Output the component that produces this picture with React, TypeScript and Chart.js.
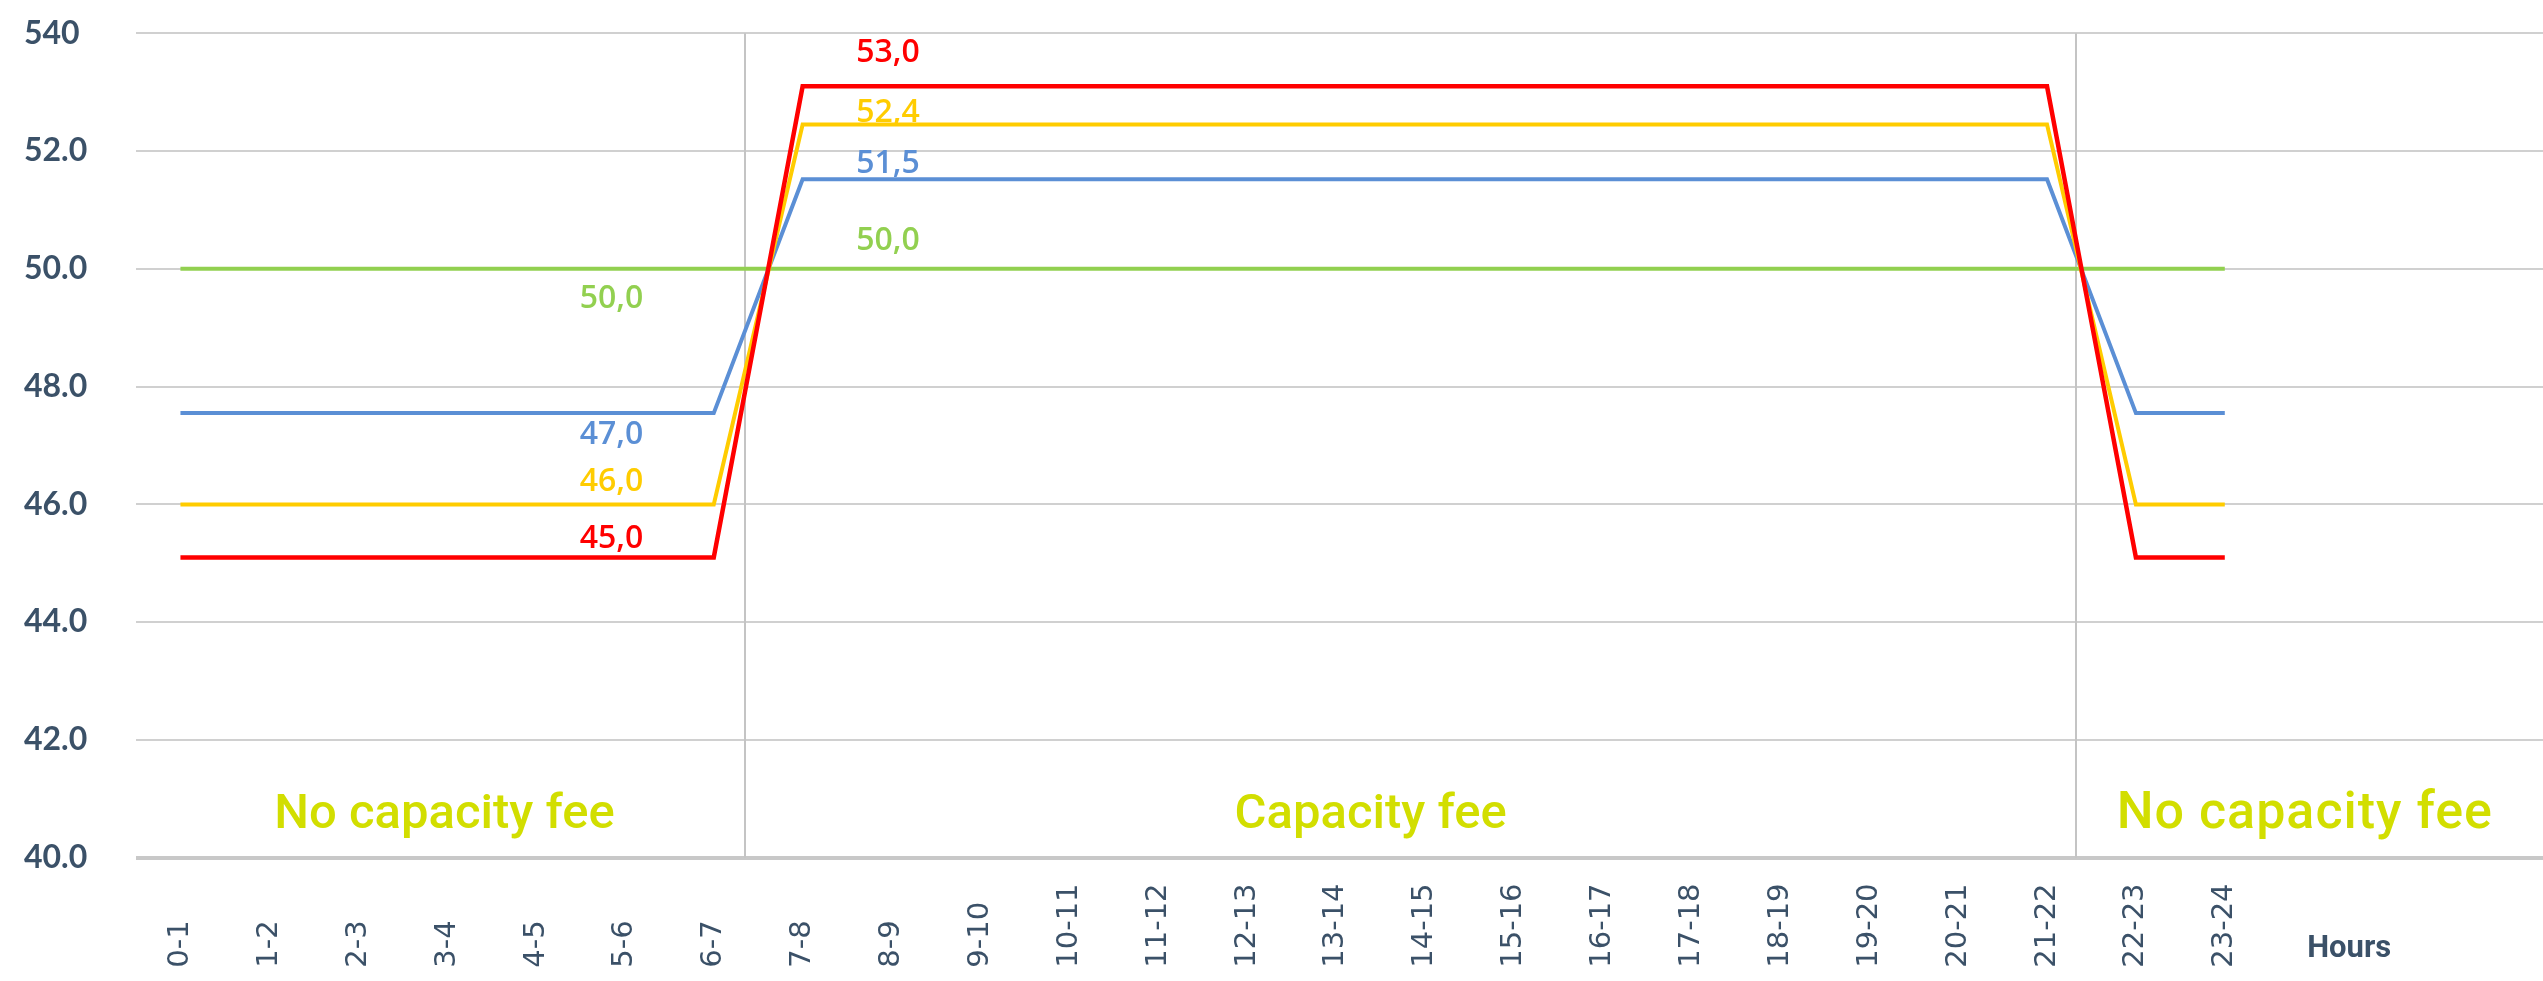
import React, { useEffect, useRef } from 'react';
import { Chart, registerables } from 'chart.js';

Chart.register(...registerables);

// ---- data ----
const hourLabels = [
  '0-1', '1-2', '2-3', '3-4', '4-5', '5-6', '6-7', '7-8', '8-9', '9-10', '10-11', '11-12',
  '12-13', '13-14', '14-15', '15-16', '16-17', '17-18', '18-19', '19-20', '20-21', '21-22', '22-23', '23-24',
];

const redValues = [45.1, 45.1, 45.1, 45.1, 45.1, 45.1, 45.1, 53.1, 53.1, 53.1, 53.1, 53.1, 53.1, 53.1, 53.1, 53.1, 53.1, 53.1, 53.1, 53.1, 53.1, 53.1, 45.1, 45.1];
const yellowValues = [46.0, 46.0, 46.0, 46.0, 46.0, 46.0, 46.0, 52.45, 52.45, 52.45, 52.45, 52.45, 52.45, 52.45, 52.45, 52.45, 52.45, 52.45, 52.45, 52.45, 52.45, 52.45, 46.0, 46.0];
const blueValues = [47.55, 47.55, 47.55, 47.55, 47.55, 47.55, 47.55, 51.52, 51.52, 51.52, 51.52, 51.52, 51.52, 51.52, 51.52, 51.52, 51.52, 51.52, 51.52, 51.52, 51.52, 51.52, 47.55, 47.55];
const greenValues = [50, 50, 50, 50, 50, 50, 50, 50, 50, 50, 50, 50, 50, 50, 50, 50, 50, 50, 50, 50, 50, 50, 50, 50];

const seriesColors = ['#ff0000', '#ffcc00', '#5b8fd5', '#92d050'];
const seriesWidths = [4.5, 4, 4, 4];

const xMin = -0.5;
const xMax = 26.58;

const yTickValues = [40, 42, 44, 46, 48, 50, 52, 54];
const yTickLabels = ['40.0', '42.0', '44.0', '46.0', '48.0', '50.0', '52.0', '540'];

// value labels (red, yellow, blue, green)
const lowLabelTexts = ['45,0', '46,0', '47,0', '50,0'];
const lowLabelValues = [45.41, 46.38, 47.18, 49.49];
const lowLabelIndex = 4.85;
const highLabelTexts = ['53,0', '52,4', '51,5', '50,0'];
const highLabelValues = [53.66, 52.65, 51.79, 50.47];
const highLabelIndex = 7.96;

// zone annotations
const zoneTexts = ['No capacity fee', 'Capacity fee', 'No capacity fee'];
const zoneIndex = [2.97, 13.39, 23.9];
const zoneFontSize = [49, 49, 52];
const zoneSpacing = ['0px', '0px', '1px'];
const zoneBaseline = 40.5;
const dividerIndex = [6.35, 21.33];

const axisTitle = 'Hours';
const axisTitleIndex = 24.4;

const TEXT_DARK = '#3b5168';
const ZONE_COLOR = '#d2de00';

const overlayPlugin = {
  id: 'overlay',
  beforeDatasetsDraw(chart: any) {
    const { ctx, scales } = chart;
    const x = scales.x;
    const y = scales.y;
    ctx.save();
    ctx.strokeStyle = '#c4c4c4';
    ctx.lineWidth = 2;
    dividerIndex.forEach((v) => {
      const px = Math.round(x.getPixelForValue(v));
      ctx.beginPath();
      ctx.moveTo(px, y.getPixelForValue(54));
      ctx.lineTo(px, y.getPixelForValue(40));
      ctx.stroke();
    });
    ctx.restore();
  },
  afterDraw(chart: any) {
    const { ctx, scales, chartArea } = chart;
    const x = scales.x;
    const y = scales.y;
    ctx.save();
    // value labels
    ctx.font = '600 32px "Open Sans"';
    ctx.textAlign = 'center';
    ctx.textBaseline = 'middle';
    lowLabelTexts.forEach((t, i) => {
      ctx.fillStyle = seriesColors[i];
      ctx.fillText(t, x.getPixelForValue(lowLabelIndex), y.getPixelForValue(lowLabelValues[i]));
    });
    highLabelTexts.forEach((t, i) => {
      ctx.fillStyle = seriesColors[i];
      ctx.fillText(t, x.getPixelForValue(highLabelIndex), y.getPixelForValue(highLabelValues[i]));
    });
    // zone labels
    ctx.fillStyle = ZONE_COLOR;
    ctx.textBaseline = 'alphabetic';
    zoneTexts.forEach((t, i) => {
      ctx.save();
      ctx.font = `500 ${zoneFontSize[i]}px Roboto`;
      (ctx as any).letterSpacing = zoneSpacing[i];
      ctx.fillText(t, x.getPixelForValue(zoneIndex[i]), y.getPixelForValue(zoneBaseline));
      ctx.restore();
    });
    // x tick labels, rotated
    ctx.font = '29px "DejaVu Sans"';
    ctx.fillStyle = TEXT_DARK;
    ctx.textAlign = 'left';
    ctx.textBaseline = 'middle';
    hourLabels.forEach((t, i) => {
      ctx.save();
      ctx.translate(x.getPixelForValue(i), chartArea.bottom + 110);
      ctx.rotate(-Math.PI / 2);
      ctx.fillText(t, 0, 0);
      ctx.restore();
    });
    // axis title
    ctx.font = 'bold 31px Roboto';
    ctx.textAlign = 'center';
    ctx.textBaseline = 'alphabetic';
    ctx.fillText(axisTitle, x.getPixelForValue(axisTitleIndex), chartArea.bottom + 99);
    ctx.restore();
  },
};

export default function App() {
  const ref = useRef<HTMLCanvasElement | null>(null);
  useEffect(() => {
    document.body.style.margin = '0';
    const canvas = ref.current;
    if (!canvas) return;
    const seriesData = [redValues, yellowValues, blueValues, greenValues];
    const chart = new Chart(canvas, {
      type: 'line',
      data: {
        datasets: seriesData.map((d, i) => ({
          data: d.map((v, k) => ({ x: k, y: v })),
          borderColor: seriesColors[i],
          backgroundColor: seriesColors[i],
          borderWidth: seriesWidths[i],
          pointRadius: 0,
          tension: 0,
          fill: false,
        })),
      },
      options: {
        animation: false,
        responsive: false,
        devicePixelRatio: 1,
        layout: { padding: { top: 33.3, left: 24, right: 0, bottom: 0 } },
        plugins: { legend: { display: false }, tooltip: { enabled: false } },
        scales: {
          x: {
            type: 'linear',
            min: xMin,
            max: xMax,
            grid: { display: false },
            border: { display: false },
            ticks: { display: false },
            afterFit: (s: any) => { s.height = 123.3; },
          },
          y: {
            min: 40,
            max: 54,
            afterBuildTicks: (s: any) => { s.ticks = yTickValues.map((v) => ({ value: v })); },
            grid: {
              color: (c: any) => (c.tick && c.tick.value === 40 ? '#c8c8c8' : '#d0d0d0'),
              lineWidth: (c: any) => (c.tick && c.tick.value === 40 ? 4 : 2),
              drawTicks: false,
            },
            border: { display: false },
            ticks: {
              crossAlign: 'far',
              color: TEXT_DARK,
              font: { family: 'Lato', weight: 'bold', size: 32 },
              callback: (v: any) => {
                const i = yTickValues.indexOf(Number(v));
                return i >= 0 ? yTickLabels[i] : '';
              },
            },
            afterFit: (s: any) => { s.width = 112; },
          },
        },
      },
      plugins: [overlayPlugin],
    });
    return () => chart.destroy();
  }, []);
  return <canvas ref={ref} width={2543} height={981} style={{ display: 'block' }} />;
}
